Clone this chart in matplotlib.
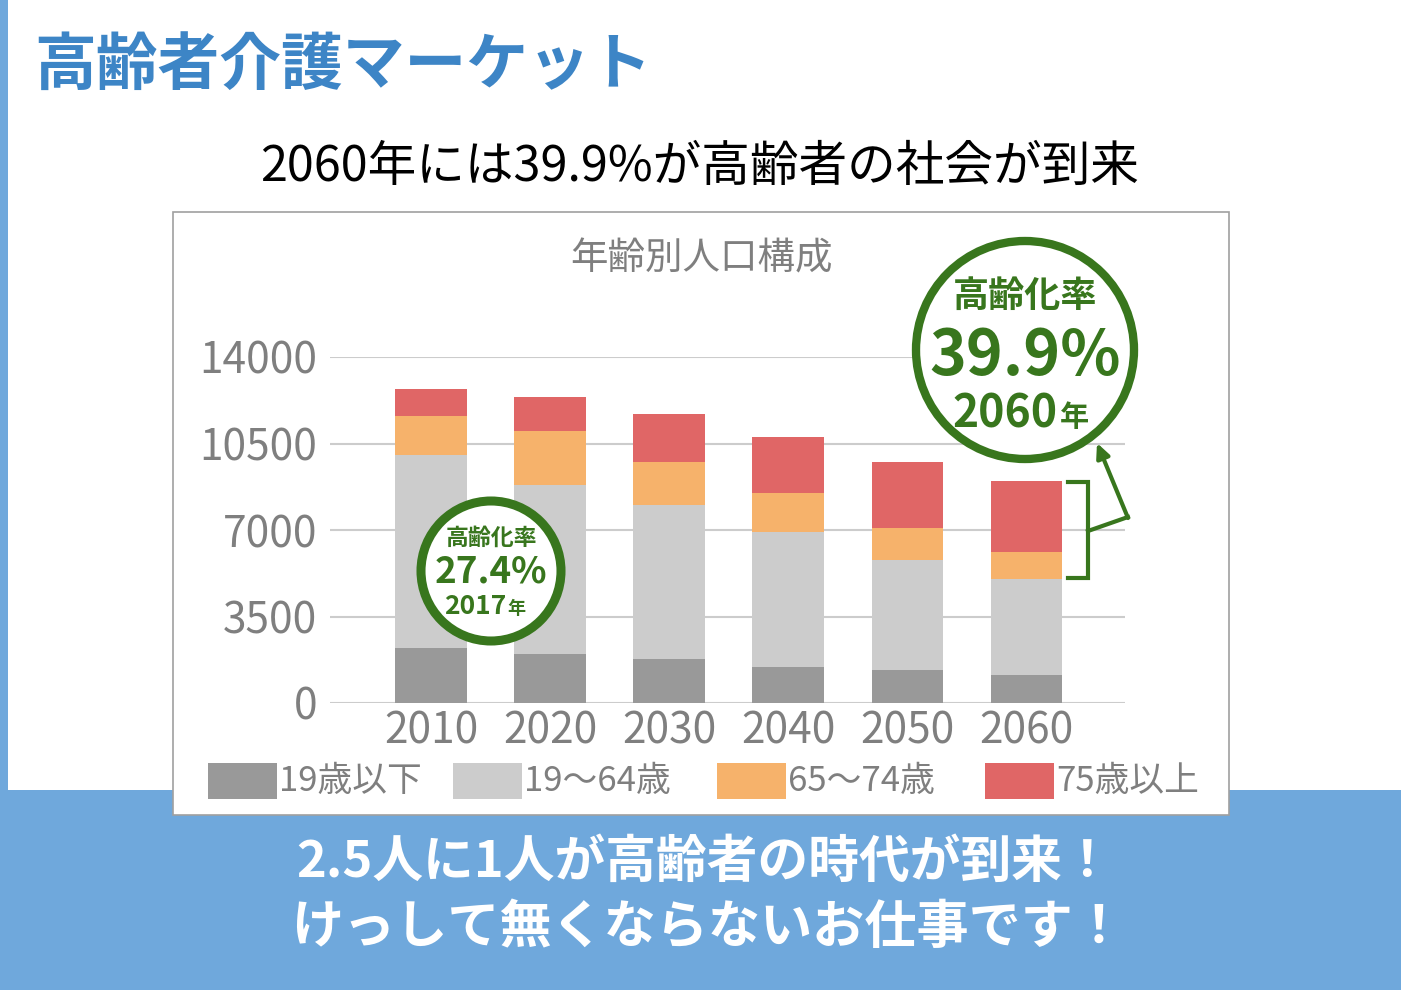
import matplotlib
matplotlib.use("Agg")
import numpy as np
import matplotlib.pyplot as plt
from matplotlib import patches

plt.rcParams['font.family'] = ['Noto Sans CJK JP', 'DejaVu Sans']

# data (人口, 万人)
years = ["2010", "2020", "2030", "2040", "2050", "2060"]
under19 = [2240, 1970, 1770, 1470, 1340, 1150]
age19_64 = [7800, 6860, 6260, 5430, 4440, 3850]
age65_74 = [1580, 2160, 1720, 1610, 1320, 1120]
over75 = [1080, 1380, 1940, 2240, 2660, 2880]
series_labels = ["19歳以下", "19～64歳", "65～74歳", "75歳以上"]
series_colors = ["#999999", "#cccccc", "#f6b26b", "#e06666"]
yticks = [0, 3500, 7000, 10500, 14000]

green = "#38761d"
blue_band = "#6fa8dc"
W, H = 1401, 990

fig = plt.figure(figsize=(W / 100, H / 100), dpi=100)

# background layer in pixel coords
bg = fig.add_axes([0, 0, 1, 1])
bg.set_xlim(0, W)
bg.set_ylim(H, 0)
bg.axis("off")
bg.add_patch(patches.Rectangle((0, 0), 8, 790, color=blue_band, lw=0))
bg.add_patch(patches.Rectangle((0, 790), W, 200, color=blue_band, lw=0))
bg.add_patch(patches.Rectangle((173, 212), 1056, 603, facecolor="white",
                               edgecolor="#a0a0a0", lw=1.2))
bg.text(34, 65, "高齢者介護マーケット", color="#3d85c6", fontsize=44.5,
        fontweight="bold", ha="left", va="center")
bg.text(700, 167, "2060年には39.9%が高齢者の社会が到来", color="black",
        fontsize=35, ha="center", va="center")
bg.text(701, 259, "年齢別人口構成", color="#7f7f7f", fontsize=27,
        ha="center", va="center")
bg.text(705, 862, "2.5人に1人が高齢者の時代が到来！", color="white",
        fontsize=36.5, fontweight="bold", ha="center", va="center")
bg.text(708, 928, "けっして無くならないお仕事です！", color="white",
        fontsize=37.5, fontweight="bold", ha="center", va="center")

# legend, drawn by hand
leg_x = [208, 453, 717, 985]
for lx, lab, col in zip(leg_x, series_labels, series_colors):
    bg.add_patch(patches.Rectangle((lx, 763), 69, 36, color=col, lw=0))
    bg.text(lx + 71, 781, lab, color="#7f7f7f", fontsize=25,
            ha="left", va="center")

# the chart
ax = fig.add_axes([330 / W, (H - 703) / H, 795 / W, 346 / H])
ax.set_facecolor("none")
x = np.arange(len(years))
bottom = np.zeros(len(years))
for vals, col in zip([under19, age19_64, age65_74, over75], series_colors):
    ax.bar(x, vals, bottom=bottom, width=0.6, color=col, lw=0, zorder=2)
    bottom += np.array(vals)

ax.set_xlim(-0.85, 5.83)
ax.set_ylim(0, 14000)
ax.set_yticks(yticks)
ax.set_yticklabels([str(v) for v in yticks])
ax.set_xticks(x)
ax.set_xticklabels(years)
ax.grid(axis="y", color="#cccccc", lw=1.5, zorder=0)
ax.tick_params(length=0, labelsize=30.5, labelcolor="#7f7f7f")
ax.tick_params(axis="y", pad=9)
ax.tick_params(axis="x", pad=5)
for s in ax.spines.values():
    s.set_visible(False)

# annotations on top
ov = fig.add_axes([0, 0, 1, 1])
ov.set_xlim(0, W)
ov.set_ylim(H, 0)
ov.axis("off")
ov.patch.set_alpha(0)

ov.add_patch(patches.Circle((491, 571), 70, facecolor="white", edgecolor=green, lw=6.5))
ov.text(491, 538, "高齢化率", color=green, fontsize=16.5, fontweight="bold",
        ha="center", va="center")
ov.text(491, 572, "27.4%", color=green, fontsize=26.5, fontweight="bold",
        ha="center", va="center")
ov.text(506, 607, "2017", color=green, fontsize=19, fontweight="bold",
        ha="right", va="center")
ov.text(507, 609, "年", color=green, fontsize=13, fontweight="bold",
        ha="left", va="center")

ov.add_patch(patches.Circle((1025, 350), 109, facecolor="white", edgecolor=green, lw=6))
ov.text(1025, 296, "高齢化率", color=green, fontsize=26, fontweight="bold",
        ha="center", va="center")
ov.text(1025, 356, "39.9%", color=green, fontsize=45, fontweight="bold",
        ha="center", va="center")
ov.text(1058, 414, "2060", color=green, fontsize=32, fontweight="bold",
        ha="right", va="center")
ov.text(1060, 417, "年", color=green, fontsize=21, fontweight="bold",
        ha="left", va="center")

# bracket around 65+ of 2060 and arrow to the circle
ov.plot([1068, 1088, 1088, 1068], [482, 482, 578, 578], color=green, lw=3,
        solid_joinstyle="miter")
ov.plot([1088, 1128], [531, 517], color=green, lw=3)
ov.annotate("", xy=(1097, 443), xytext=(1128, 518),
            arrowprops=dict(arrowstyle="-|>,head_length=0.85,head_width=0.4",
                            color=green, lw=3, shrinkA=0, shrinkB=0))

fig.savefig("out.png", dpi=100)
